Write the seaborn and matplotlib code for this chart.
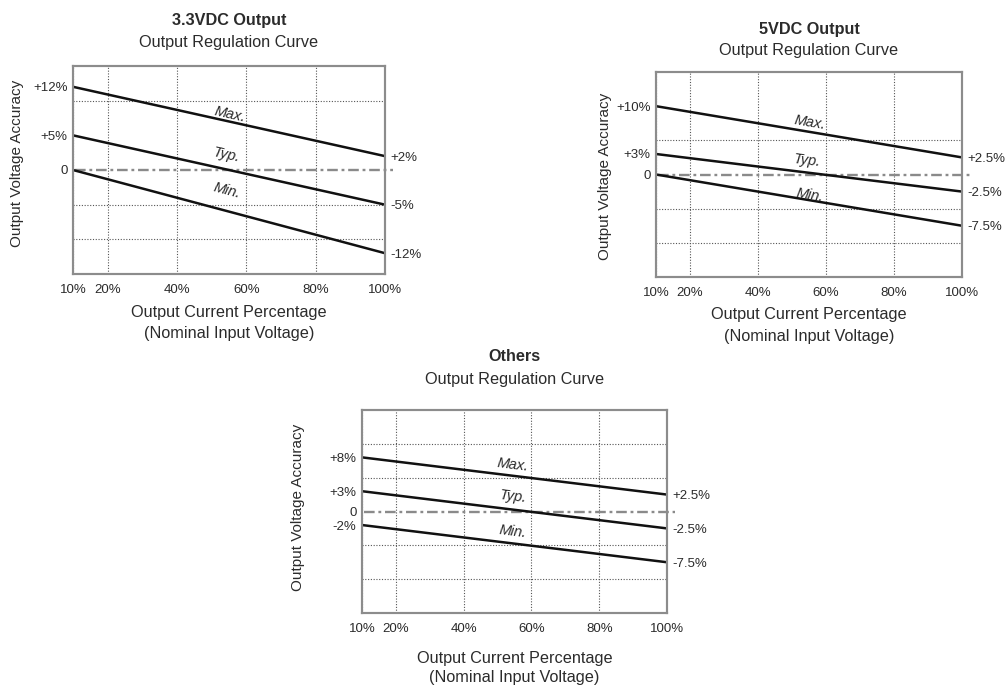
import numpy as np
import pandas as pd
import matplotlib
matplotlib.use('Agg')
import matplotlib.pyplot as plt
import seaborn as sns

# Carga de salida (%) en los extremos de cada recta
carga = [10, 100]

# Precision de tension de salida (%) a 10% y 100% de carga
v33_max = [12, 2]
v33_typ = [5, -5]
v33_min = [0, -12]

v5_max = [10, 2.5]
v5_typ = [3, -2.5]
v5_min = [0, -7.5]

otros_max = [8, 2.5]
otros_typ = [3, -2.5]
otros_min = [-2, -7.5]

titulos = ['3.3VDC Output', '5VDC Output', 'Others']
subtitulo = 'Output Regulation Curve'
curvas = ['Max.', 'Typ.', 'Min.']
xticks = [10, 20, 40, 60, 80, 100]
xlabels = ['10%', '20%', '40%', '60%', '80%', '100%']

TXT = '#2b2b2b'
FS = 11.7


def fmt(v):
    if v == 0:
        return '0'
    return f'+{v:g}%' if v > 0 else f'{v:g}%'


def dibujar_panel(fig, rect, series, titulo, cfg):
    ax = fig.add_axes(rect)
    df = pd.DataFrame({
        'carga': carga * 3,
        'precision': series[0] + series[1] + series[2],
        'curva': [c for c in curvas for _ in carga],
    })
    sns.lineplot(data=df, x='carga', y='precision', hue='curva',
                 palette=['#111111'] * 3, linewidth=1.8, legend=False, ax=ax)
    ax.axhline(0, xmin=0.005, xmax=1.025, color='#8a8a8a', lw=1.7,
               dashes=(4.5, 1.6, 1.2, 1.6), clip_on=False, zorder=1)

    ax.set_xlim(10, 100)
    ax.set_ylim(-15, 15)
    ax.set_xticks(xticks, xlabels)
    izq = sorted(set([s[0] for s in series] + [0]), reverse=True)
    ax.set_yticks(izq, [fmt(v) for v in izq])
    ax.set_yticks([-10, -5, 5, 10], minor=True)
    ax.grid(False)
    ax.xaxis.grid(True, which='major', ls=(0, (1, 1.5)), color='#555555', lw=0.8)
    ax.yaxis.grid(True, which='minor', ls=(0, (1, 1.5)), color='#555555', lw=0.8)
    ax.tick_params(which='both', length=0, labelsize=9.5, colors=TXT)
    ax.tick_params(axis='x', pad=7)
    ax.tick_params(axis='y', pad=4)

    der = [s[1] for s in series]
    ax2 = ax.twinx()
    ax2.set_ylim(ax.get_ylim())
    ax2.set_yticks(der, [fmt(v) for v in der])
    ax2.tick_params(length=0, labelsize=9.5, colors=TXT, pad=4)
    ax2.grid(False)

    for a in (ax, ax2):
        for sp in a.spines.values():
            sp.set_color('#8c8c8c')
            sp.set_linewidth(1.5)

    # etiquetas Max./Typ./Min. sobre cada recta
    for s, nombre, (tx, ty) in zip(series, curvas, cfg['etiquetas']):
        ang = np.degrees(np.arctan2(s[1] - s[0], carga[1] - carga[0]))
        ax.text(tx, ty, nombre, style='italic', fontsize=10.5, color=TXT,
                ha='center', va='center', rotation=ang,
                transform_rotates_text=True, rotation_mode='anchor')

    ax.set_xlabel('')
    ax.set_ylabel('Output Voltage Accuracy', fontsize=11, color=TXT)
    ax.yaxis.label.set_va('center')
    ax.yaxis.set_label_coords(*cfg['ylabel'])

    t1, t2 = cfg['titulo']
    ax.text(0.5, t1, titulo, transform=ax.transAxes, ha='center', va='center',
            fontsize=FS, fontweight='bold', color=TXT)
    ax.text(0.5, t2, subtitulo, transform=ax.transAxes, ha='center', va='center',
            fontsize=FS, color=TXT)
    l1, l2 = cfg['xlabel']
    ax.text(0.5, l1, 'Output Current Percentage', transform=ax.transAxes,
            ha='center', va='center', fontsize=FS, color=TXT)
    ax.text(0.5, l2, '(Nominal Input Voltage)', transform=ax.transAxes,
            ha='center', va='center', fontsize=FS, color=TXT)
    return ax


sns.set_theme(style='white')
plt.rcParams['font.family'] = ['Liberation Sans', 'DejaVu Sans']

W, H = 1005, 686
fig = plt.figure(figsize=(W / 100, H / 100), dpi=100)


def rect_px(x0, y0, x1, y1):
    return [x0 / W, 1 - y1 / H, (x1 - x0) / W, (y1 - y0) / H]


paneles = [
    (rect_px(73, 66, 385, 274), [v33_max, v33_typ, v33_min], titulos[0],
     {'etiquetas': [(55.3, 8.0), (54.4, 2.1), (54.4, -2.95)],
      'ylabel': (-0.179, 0.534), 'titulo': (1.221, 1.115),
      'xlabel': (-0.183, -0.284)}),
    (rect_px(656, 72, 962, 277), [v5_max, v5_typ, v5_min], titulos[1],
     {'etiquetas': [(55.3, 7.6), (54.4, 2.06), (55.3, -2.99)],
      'ylabel': (-0.167, 0.493), 'titulo': (1.205, 1.107),
      'xlabel': (-0.185, -0.288)}),
    (rect_px(362, 410, 667, 613), [otros_max, otros_typ, otros_min], titulos[2],
     {'etiquetas': [(54.6, 6.86), (54.6, 2.2), (54.6, -2.94)],
      'ylabel': (-0.21, 0.52), 'titulo': (1.266, 1.148),
      'xlabel': (-0.222, -0.32)}),
]

for rect, series, titulo, cfg in paneles:
    dibujar_panel(fig, rect, series, titulo, cfg)

fig.savefig('out.png', dpi=100, facecolor='white')
